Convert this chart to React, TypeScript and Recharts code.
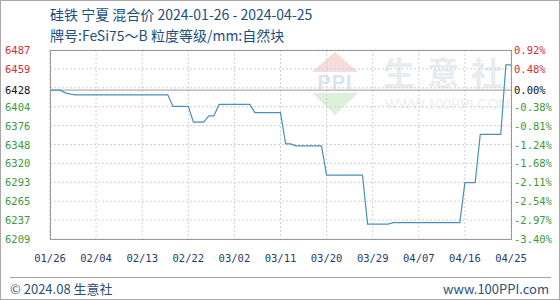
import { LineChart, Line, XAxis, YAxis, CartesianGrid, ReferenceLine } from 'recharts'

// 2024-01-26 .. 2024-04-25, one point per day
const dates = [
  '01/26', '01/27', '01/28', '01/29', '01/30', '01/31',
  '02/01', '02/02', '02/03', '02/04', '02/05', '02/06', '02/07', '02/08', '02/09', '02/10',
  '02/11', '02/12', '02/13', '02/14', '02/15', '02/16', '02/17', '02/18', '02/19', '02/20',
  '02/21', '02/22', '02/23', '02/24', '02/25', '02/26', '02/27', '02/28', '02/29',
  '03/01', '03/02', '03/03', '03/04', '03/05', '03/06', '03/07', '03/08', '03/09', '03/10',
  '03/11', '03/12', '03/13', '03/14', '03/15', '03/16', '03/17', '03/18', '03/19', '03/20',
  '03/21', '03/22', '03/23', '03/24', '03/25', '03/26', '03/27', '03/28', '03/29', '03/30', '03/31',
  '04/01', '04/02', '04/03', '04/04', '04/05', '04/06', '04/07', '04/08', '04/09', '04/10',
  '04/11', '04/12', '04/13', '04/14', '04/15', '04/16', '04/17', '04/18', '04/19', '04/20',
  '04/21', '04/22', '04/23', '04/24', '04/25',
]

const prices = [
  6428, 6428, 6428, 6424, 6422, 6421,
  6421, 6421, 6421, 6421, 6421, 6421, 6421, 6421, 6421, 6421,
  6421, 6421, 6421, 6421, 6421, 6421, 6421, 6421, 6404, 6404,
  6404, 6404, 6381, 6381, 6381, 6390, 6390, 6407, 6407,
  6407, 6407, 6407, 6407, 6407, 6395, 6395, 6395, 6395, 6395,
  6395, 6349, 6349, 6346, 6346, 6346, 6346, 6346, 6346, 6303,
  6303, 6303, 6303, 6303, 6303, 6303, 6303, 6231, 6231, 6231, 6231,
  6231, 6233, 6233, 6233, 6233, 6233, 6233, 6233, 6233, 6233,
  6233, 6233, 6233, 6233, 6233, 6292, 6292, 6292, 6363, 6363,
  6363, 6363, 6363, 6465, 6465,
]

const basePrice = 6428
const yTicks = [6487, 6459.2, 6431.4, 6403.6, 6375.8, 6348, 6320.2, 6292.4, 6264.6, 6236.8, 6209]
const leftLabels = ['6487', '6459', '6428', '6404', '6376', '6348', '6320', '6293', '6265', '6237', '6209']
const rightLabels = ['0.92%', '0.48%', '0.00%', '-0.38%', '-0.81%', '-1.24%', '-1.68%', '-2.11%', '-2.54%', '-2.97%', '-3.40%']
const xTicks = ['01/26', '02/04', '02/13', '02/22', '03/02', '03/11', '03/20', '03/29', '04/07', '04/16', '04/25']

const data = dates.map((d, i) => ({ date: d, price: prices[i] }))

const RED = '#d03030'
const GREEN = '#3a9a3a'
const TICK_FONT = '"DejaVu Sans Mono", monospace'
const CJK_FONT = '"Noto Sans CJK SC", sans-serif'

function labelColor(i: number) {
  if (i < 2) return RED
  if (i === 2) return '#111'
  return GREEN
}

function YTick(props: any) {
  const { y, index } = props
  const c = labelColor(index)
  return (
    <g>
      <text x={5} y={y + (index === 2 ? 2 : 0)} dy={4} fontSize={10.5} fontFamily={TICK_FONT} fill={c}>{leftLabels[index]}</text>
      <text x={514} y={y + (index === 2 ? 2 : 0)} dy={4} fontSize={10.5} fontFamily={TICK_FONT} fill={c}>{rightLabels[index]}</text>
    </g>
  )
}

function XTick(props: any) {
  const { x, y, payload } = props
  return (
    <text x={x} y={y + 15} textAnchor="middle" fontSize={10.5} fontFamily={TICK_FONT} fill="#1f3d6b">{payload.value}</text>
  )
}

export default function App() {
  return (
    <div style={{ position: 'absolute', left: 0, top: 0, width: 560, height: 300, background: '#fff', overflow: 'hidden' }}>
      <div style={{ position: 'absolute', left: 0, top: 0, width: 558, height: 298, border: '1px solid #a8a8a8' }} />

      {/* header */}
      <div style={{ position: 'absolute', left: 50, top: 4, fontFamily: CJK_FONT, fontSize: 14, color: '#1c4f7c', whiteSpace: 'nowrap' }}>
        硅铁 宁夏 混合价 2024-01-26 - 2024-04-25
      </div>
      <div style={{ position: 'absolute', left: 50, top: 25, fontFamily: CJK_FONT, fontSize: 14, color: '#1c4f7c', whiteSpace: 'nowrap' }}>
        牌号:FeSi75～B 粒度等级/mm:自然块
      </div>

      {/* watermark */}
      <div style={{ position: 'absolute', left: 312, top: 52, width: 0, height: 0, borderLeft: '23px solid transparent', borderRight: '23px solid transparent', borderBottom: '20px solid #f6dcdc' }} />
      <div style={{ position: 'absolute', left: 312, top: 71, width: 46, textAlign: 'center', fontFamily: 'Arial, sans-serif', fontWeight: 'bold', fontSize: 20, color: '#dde3ec', letterSpacing: 1 }}>PPI</div>
      <div style={{ position: 'absolute', left: 312, top: 93, width: 0, height: 0, borderLeft: '23px solid transparent', borderRight: '23px solid transparent', borderTop: '22px solid #dcf0dc' }} />
      <div style={{ position: 'absolute', left: 383, top: 48, fontFamily: CJK_FONT, fontSize: 32, fontWeight: 'bold', color: '#e8ebef', letterSpacing: 12, whiteSpace: 'nowrap' }}>生意社</div>
      <div style={{ position: 'absolute', left: 385, top: 96, fontFamily: 'Arial, sans-serif', fontSize: 14, color: '#eceef1', whiteSpace: 'nowrap' }}>WWW.100PPI.COM</div>

      <div style={{ position: 'absolute', left: 0, top: 0 }}>
        <LineChart width={560} height={300} data={data} margin={{ top: 50, right: 49, left: 0, bottom: 31 }}>
          <CartesianGrid stroke="#d0d0d0" strokeDasharray="2 2" />
          <XAxis dataKey="date" ticks={xTicks} interval={0} tick={<XTick />} tickLine={false} axisLine={false} height={30} />
          <YAxis type="number" domain={[6209, 6487]} ticks={yTicks} interval={0} tick={<YTick />} tickLine={false} axisLine={false} width={50} allowDataOverflow />
          <ReferenceLine y={basePrice} stroke="#9a9a9a" strokeWidth={1} />
          <Line type="linear" dataKey="price" stroke="#4a8fbb" strokeWidth={1.2} dot={false} isAnimationActive={false} />
        </LineChart>
      </div>

      {/* plot frame */}
      <div style={{ position: 'absolute', left: 50, top: 50, width: 460, height: 188, border: '1px solid #9a9a9a', pointerEvents: 'none' }} />

      {/* footer */}
      <div style={{ position: 'absolute', left: 10, top: 277, width: 541, height: 1, background: '#a0a0a0' }} />
      <div style={{ position: 'absolute', left: 10, top: 279, fontFamily: CJK_FONT, fontSize: 13, color: '#2c5078', whiteSpace: 'nowrap' }}>© 2024.08 生意社</div>
      <div style={{ position: 'absolute', right: 11, top: 279, fontFamily: CJK_FONT, fontSize: 13, color: '#2c5078', whiteSpace: 'nowrap' }}>www.100PPI.com</div>
    </div>
  )
}
